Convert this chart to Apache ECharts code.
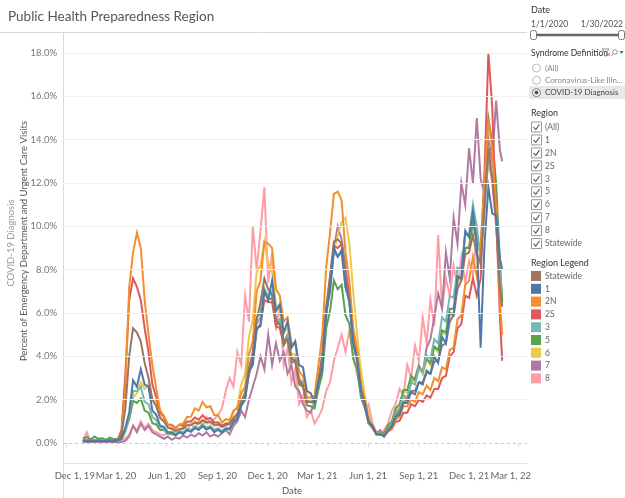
<!DOCTYPE html>
<html><head><meta charset="utf-8">
<script src="https://cdn.jsdelivr.net/npm/echarts@6/dist/echarts.min.js"></script>
<style>html,body{margin:0;padding:0;background:#fff}#c{width:625px;height:498px}</style>
</head><body><div id="c"></div>
<script>
// ---- categories: weekly dates from 1/1/2020, last point 1/30/2022 ----
const startYear = 2020, startMonth = 0, startDay = 1, stepDays = 7, weeklyPoints = 109;
const lastDate = [2022, 0, 30];
const dates = [];
for (let k = 0; k < weeklyPoints; k++) dates.push(new Date(startYear, startMonth, startDay + stepDays * k).getTime());
dates.push(new Date(lastDate[0], lastDate[1], lastDate[2]).getTime());

// ---- series values (% of ED & UC visits) ----
const statewide = [0.12,0.1,0.14,0.1,0.13,0.1,0.12,0.11,0.12,0.15,0.35,1.6,4.0,5.3,5.1,4.7,3.7,3.0,2.0,1.7,1.15,1.0,0.72,0.66,0.55,0.65,0.68,0.82,0.83,0.94,0.9,1.04,0.96,0.99,0.86,0.85,0.75,0.82,0.88,1.14,1.36,1.86,2.35,3.3,4.2,5.7,6.5,7.6,7.1,6.8,5.7,5.5,4.7,4.8,3.9,3.8,2.9,2.6,1.9,1.9,1.95,2.9,4.1,6.3,7.7,9.3,9.4,9.2,7.6,6.5,4.7,3.8,2.4,1.7,0.95,0.7,0.43,0.4,0.38,0.6,0.8,1.26,1.44,1.88,2.02,2.4,2.42,2.82,2.8,3.25,3.2,3.75,3.8,4.5,4.6,5.6,5.9,7.1,7.5,8.7,8.8,9.6,8.7,8.3,11.0,13.6,12.2,10.2,7.1,6.3];
const r1 = [0.1,0.12,0.08,0.1,0.11,0.08,0.1,0.12,0.1,0.12,0.2,0.7,1.4,2.9,2.6,3.4,2.7,2.6,1.5,1.3,0.8,0.75,0.5,0.5,0.35,0.5,0.42,0.6,0.52,0.7,0.6,0.8,0.62,0.72,0.5,0.62,0.48,0.66,0.62,0.98,1.1,1.75,2.0,3.3,3.6,5.3,5.4,7.0,6.6,7.5,6.1,6.4,5.1,5.6,4.4,4.7,3.6,3.5,2.4,2.3,1.85,2.8,3.5,6.0,7.0,9.0,8.6,8.9,7.2,6.6,4.6,3.9,2.4,1.85,0.95,0.8,0.4,0.4,0.3,0.55,0.75,1.2,1.3,1.85,1.85,2.35,2.25,2.8,2.7,3.35,3.2,4.0,3.7,4.9,4.6,6.0,5.9,7.7,7.6,9.8,9.5,10.7,9.2,4.4,9.2,11.8,10.6,10.5,8.5,8.0];
const r2N = [0.1,0.12,0.1,0.13,0.1,0.12,0.1,0.12,0.1,0.15,0.4,2.5,7.2,8.8,9.7,9.0,6.6,5.0,3.6,2.5,1.5,1.25,0.85,0.8,0.65,0.85,0.9,1.2,1.22,1.6,1.5,1.9,1.65,1.7,1.3,1.3,0.95,1.1,1.05,1.5,1.6,2.3,2.6,4.1,4.7,7.0,7.5,9.3,9.2,9.0,7.1,6.8,5.6,5.8,4.6,4.6,3.3,3.1,2.1,2.1,2.2,3.6,5.0,8.1,9.7,11.5,11.6,11.2,8.8,7.5,5.3,4.3,2.7,2.0,1.1,0.85,0.45,0.42,0.38,0.52,0.66,1.06,1.22,1.7,1.7,2.0,1.9,2.35,2.25,2.65,2.45,3.0,2.85,3.5,3.4,4.3,4.4,5.7,5.9,7.3,7.5,8.6,7.7,9.0,12.2,15.0,13.5,10.8,6.5,5.0];
const r2S = [0.1,0.12,0.1,0.12,0.1,0.12,0.1,0.12,0.1,0.15,0.6,3.2,6.6,7.6,7.2,6.6,5.3,4.2,2.7,2.1,1.4,1.2,0.85,0.85,0.7,0.85,0.8,1.0,1.0,1.18,1.08,1.28,1.1,1.16,0.95,0.96,0.8,0.9,0.9,1.16,1.32,1.9,2.2,3.2,3.8,5.2,5.5,6.6,6.5,6.5,5.4,5.3,4.6,4.8,3.9,3.8,2.8,2.7,1.9,1.9,1.9,2.9,3.8,6.1,7.3,9.1,9.0,9.2,7.7,6.9,5.0,4.2,2.6,1.9,1.0,0.75,0.42,0.4,0.38,0.55,0.65,0.98,1.02,1.4,1.4,1.8,1.7,2.0,1.9,2.2,2.1,2.5,2.5,3.0,3.1,4.0,4.2,5.3,5.5,6.8,6.7,7.6,6.8,7.6,12.5,18.0,15.5,10.5,5.8,3.8];
const r3 = [0.1,0.08,0.12,0.1,0.09,0.12,0.1,0.08,0.11,0.1,0.15,0.55,1.2,2.4,2.4,2.6,1.9,1.8,1.2,1.05,0.75,0.65,0.46,0.5,0.4,0.55,0.5,0.66,0.6,0.76,0.7,0.86,0.72,0.78,0.62,0.68,0.56,0.68,0.68,0.96,1.1,1.7,2.0,3.2,3.8,5.5,5.8,7.1,6.8,7.0,5.7,5.7,4.7,5.0,3.9,4.0,2.9,2.8,1.95,1.9,1.8,2.8,3.7,6.0,7.1,8.8,8.6,8.8,7.2,6.5,4.6,3.8,2.3,1.75,0.9,0.72,0.42,0.42,0.4,0.66,0.88,1.42,1.58,2.15,2.15,2.8,2.7,3.45,3.3,4.05,3.9,4.8,4.6,5.8,5.6,6.8,6.7,8.1,8.0,9.6,9.6,11.0,10.0,8.5,10.7,13.2,12.3,11.0,7.8,7.0];
const r5 = [0.2,0.28,0.15,0.3,0.2,0.22,0.15,0.25,0.18,0.2,0.25,0.65,1.1,1.95,1.85,2.05,1.5,1.4,0.92,0.86,0.6,0.6,0.42,0.44,0.36,0.5,0.46,0.6,0.56,0.7,0.64,0.78,0.65,0.73,0.57,0.63,0.53,0.68,0.7,1.0,1.2,1.95,2.2,3.5,4.1,5.8,6.0,7.1,6.6,6.7,5.5,5.5,4.5,4.8,3.7,3.8,2.7,2.6,1.75,1.7,1.6,2.5,3.2,5.3,6.1,7.5,7.1,7.3,5.9,5.5,3.9,3.4,2.1,1.65,0.9,0.72,0.4,0.45,0.46,0.82,1.0,1.62,1.78,2.45,2.45,3.1,2.9,3.5,3.3,3.9,3.7,4.45,4.3,5.2,5.1,6.2,6.2,7.6,7.6,9.0,9.0,10.2,9.3,9.0,12.2,15.0,13.9,12.0,8.3,6.5];
const r6 = [0.1,0.12,0.1,0.08,0.12,0.1,0.1,0.12,0.09,0.1,0.15,0.5,1.1,2.1,2.3,2.8,2.5,2.7,2.0,1.9,1.2,1.05,0.7,0.65,0.5,0.65,0.64,0.86,0.84,1.02,0.92,1.08,0.9,0.96,0.78,0.86,0.74,0.9,0.95,1.4,1.7,2.7,3.2,4.9,5.7,7.9,8.2,9.3,8.3,7.9,6.4,6.2,5.1,5.3,4.1,4.1,3.0,2.8,1.95,2.0,2.0,2.8,4.1,5.8,7.6,8.8,9.6,10.2,10.4,9.2,7.0,5.0,3.4,2.2,1.3,0.85,0.46,0.44,0.42,0.7,0.92,1.5,1.7,2.35,2.35,3.0,2.85,3.4,3.2,3.85,3.6,4.4,4.2,5.1,5.0,6.0,6.0,7.4,7.5,9.0,9.1,10.3,9.3,8.8,11.2,13.4,12.3,10.9,7.6,6.6];
const r7 = [0.05,0.05,0.05,0.05,0.05,0.05,0.05,0.05,0.05,0.05,0.05,0.1,0.3,0.8,0.5,0.9,0.6,0.8,0.5,0.4,0.3,0.2,0.3,0.15,0.25,0.2,0.35,0.25,0.4,0.3,0.45,0.35,0.5,0.3,0.4,0.3,0.45,0.6,0.4,0.8,1.0,1.5,1.2,2.0,2.6,3.2,4.0,3.4,5.0,3.6,4.6,3.8,4.2,3.2,3.6,2.6,2.4,1.8,1.5,1.4,1.9,2.5,3.8,5.8,7.6,9.0,10.0,9.4,8.2,6.8,5.2,3.9,2.8,1.8,1.1,0.7,0.45,0.6,0.3,0.6,0.8,1.3,1.6,2.2,2.0,2.8,3.0,3.6,3.2,4.4,4.8,5.8,6.9,6.2,8.8,7.6,10.4,9.2,12.0,11.0,13.6,12.0,15.0,12.2,11.5,14.0,13.0,15.8,13.5,13.0];
const r8 = [0.1,0.5,0.1,0.15,0.1,0.2,0.1,0.15,0.1,0.1,0.1,0.2,0.4,0.8,0.6,1.0,0.7,0.9,0.6,0.5,0.4,0.35,0.5,0.4,0.6,0.5,0.8,0.6,0.9,0.7,1.0,0.8,1.2,0.9,1.1,1.3,1.6,2.4,3.0,2.6,4.2,3.6,6.8,5.6,10.0,8.0,9.8,11.8,7.4,8.8,5.2,6.4,3.6,4.4,2.8,3.4,1.8,2.2,1.2,1.5,0.9,1.2,1.6,2.4,2.8,3.8,4.4,5.0,4.2,5.2,4.0,3.2,2.4,1.6,1.8,0.9,0.5,0.4,0.6,0.9,1.5,1.8,2.5,2.2,3.6,3.0,4.5,3.8,5.8,4.6,6.6,5.4,9.6,6.2,7.6,6.8,8.2,7.2,8.6,7.4,8.4,7.8,9.6,8.6,11.2,13.0,12.0,10.0,7.5,6.5];

// ---- legend / filter labels ----
const regionNames = ['Statewide','1','2N','2S','3','5','6','7','8'];
const regionColors = ['#9c755f','#4e79a7','#f28e2b','#e15759','#76b7b2','#59a14f','#edc948','#b07aa1','#ff9da7'];
const regionValues = [statewide, r1, r2N, r2S, r3, r5, r6, r7, r8];
const filterRegions = ['(All)','1','2N','2S','3','5','6','7','8','Statewide'];
const syndromeOptions = ['(All)','Coronavirus-Like Illn...','COVID-19 Diagnosis'];
const drawOrder = ['8','7','6','5','3','2S','2N','Statewide','1'];

// ---- axis ticks ----
const yTicks = [0,2,4,6,8,10,12,14,16,18];
const xTickDates = [[2019,11,1],[2020,2,1],[2020,5,1],[2020,8,1],[2020,11,1],[2021,2,1],[2021,5,1],[2021,8,1],[2021,11,1],[2022,2,1]];
const xTickLabels = ['Dec 1, 19','Mar 1, 20','Jun 1, 20','Sep 1, 20','Dec 1, 20','Mar 1, 21','Jun 1, 21','Sep 1, 21','Dec 1, 21','Mar 1, 22'];
const xTickValues = xTickDates.map(d => new Date(d[0], d[1], d[2]).getTime());

const FONT = 'Lato, "Open Sans", sans-serif';
const chart = echarts.init(document.getElementById('c'), null, {renderer: 'canvas'});

const series = [];
series.push({
  type: 'line', data: [], z: 1, silent: true,
  markLine: {
    silent: true, symbol: 'none', label: {show: false}, animation: false,
    data: yTicks.map(v => ({yAxis: v, lineStyle: v === 0 ? {color: '#c8c8c8', type: [3, 3], width: 1} : {color: '#efefef', type: 'solid', width: 1}}))
  }
});
drawOrder.forEach(name => {
  const i = regionNames.indexOf(name);
  series.push({
    name: name, type: 'line', showSymbol: false, symbol: 'none', z: 2,
    lineStyle: {width: 2, color: regionColors[i], join: 'miter'}, itemStyle: {color: regionColors[i]},
    emphasis: {disabled: true}, silent: true,
    data: dates.map((d, k) => [d, regionValues[i][k]])
  });
});

const g = [];
const txt = (x, y, text, size, fill, extra) => g.push(Object.assign({type: 'text', x: x, y: y, silent: true,
  style: Object.assign({text: text, font: size + 'px ' + FONT, fill: fill, align: 'left', verticalAlign: 'middle'}, extra && extra.style || {})},
  extra && extra.el || {}));
g.push({type: 'line', silent: true, shape: {x1: 0, y1: 32.5, x2: 527, y2: 32.5}, style: {stroke: '#d9d9d9', lineWidth: 1}});
g.push({type: 'line', silent: true, shape: {x1: 63.5, y1: 32, x2: 63.5, y2: 498}, style: {stroke: '#d9d9d9', lineWidth: 1}});
g.push({type: 'line', silent: true, shape: {x1: 63, y1: 463.5, x2: 527, y2: 463.5}, style: {stroke: '#e3e3e3', lineWidth: 1}});
txt(8, 17, 'Public Health Preparedness Region', 13.5, '#555');
txt(24, 241, 'Percent of Emergency Department and Urgent Care Visits', 9.5, '#555', {style: {align: 'center'}, el: {rotation: Math.PI / 2}});
txt(11, 243, 'COVID-19 Diagnosis', 9.5, '#999', {style: {align: 'center'}, el: {rotation: Math.PI / 2}});
txt(292, 491, 'Date', 9.5, '#555', {style: {align: 'center'}});
txt(531, 10, 'Date', 9, '#333');
txt(531, 24, '1/1/2020', 8.5, '#555');
txt(623, 24, '1/30/2022', 8.5, '#555', {style: {align: 'right'}});
g.push({type: 'line', silent: true, shape: {x1: 535, y1: 35, x2: 620, y2: 35}, style: {stroke: '#666', lineWidth: 2.5}});
g.push({type: 'rect', silent: true, shape: {x: 530.5, y: 30.5, width: 6, height: 9, r: 2}, style: {fill: '#fff', stroke: '#777', lineWidth: 1}});
g.push({type: 'rect', silent: true, shape: {x: 618.5, y: 30.5, width: 6, height: 9, r: 2}, style: {fill: '#fff', stroke: '#777', lineWidth: 1}});
txt(531, 53, 'Syndrome Definition', 8.5, '#333');
g.push({type: 'polygon', silent: true, shape: {points: [[602, 49], [609, 49], [606.5, 52.5], [606.5, 56], [604.5, 56], [604.5, 52.5]]}, style: {fill: 'none', stroke: '#888', lineWidth: 0.9}});
g.push({type: 'text', silent: true, x: 608.5, y: 55, style: {text: '×', font: 'bold 7px ' + FONT, fill: '#e15759', align: 'center', verticalAlign: 'middle'}});
g.push({type: 'circle', silent: true, shape: {cx: 615, cy: 52, r: 2.3}, style: {fill: 'none', stroke: '#888', lineWidth: 0.9}});
g.push({type: 'line', silent: true, shape: {x1: 613.3, y1: 53.8, x2: 611.5, y2: 55.8}, style: {stroke: '#888', lineWidth: 1}});
g.push({type: 'polygon', silent: true, shape: {points: [[619.5, 51], [623.5, 51], [621.5, 54]]}, style: {fill: '#666'}});
g.push({type: 'rect', silent: true, shape: {x: 529, y: 86, width: 96, height: 13}, style: {fill: '#e8e8e8'}});
syndromeOptions.forEach((s, i) => {
  const y = 68 + i * 12.3;
  g.push({type: 'circle', silent: true, shape: {cx: 536.5, cy: y, r: 4}, style: {fill: '#fff', stroke: i === 2 ? '#777' : '#bbb', lineWidth: 1}});
  if (i === 2) g.push({type: 'circle', silent: true, shape: {cx: 536.5, cy: y, r: 2}, style: {fill: '#555'}});
  txt(545, y, s, 8, i === 2 ? '#444' : '#888');
});
txt(531, 113, 'Region', 9, '#333');
filterRegions.forEach((s, i) => {
  const y = 127 + i * 12.95;
  g.push({type: 'rect', silent: true, shape: {x: 531.5, y: y - 5, width: 10, height: 10}, style: {fill: '#fff', stroke: '#999', lineWidth: 1}});
  g.push({type: 'polyline', silent: true, shape: {points: [[533.5, y], [535.8, y + 2.5], [539.5, y - 2.8]]}, style: {stroke: '#555', lineWidth: 1.1, fill: null}});
  txt(545, y, s, 8.5, '#666');
});
txt(531, 263, 'Region Legend', 9, '#333');
regionNames.forEach((s, i) => {
  const y = 276 + i * 12.8;
  g.push({type: 'rect', silent: true, shape: {x: 531, y: y - 5, width: 10, height: 10}, style: {fill: regionColors[i]}});
  txt(545, y, s, 8.5, '#666');
});

chart.setOption({
  animation: false,
  backgroundColor: '#fff',
  grid: {left: 63, right: 98, top: 32, bottom: 35, containLabel: false},
  xAxis: {
    type: 'value',
    min: new Date(2019, 10, 26).getTime(),
    max: new Date(2022, 2, 16).getTime(),
    axisLine: {show: false},
    axisTick: {show: true, length: 4, lineStyle: {color: '#e0e0e0'}, customValues: xTickValues},
    splitLine: {show: false},
    axisLabel: {
      customValues: xTickValues, color: '#666', fontSize: 9.5, fontFamily: FONT, margin: 8,
      formatter: v => {
        const i = xTickValues.indexOf(v);
        if (i < 0) return '';
        if (i === 0) return '{first|' + xTickLabels[i] + '}';
        if (i === xTickLabels.length - 1) return '{last|' + xTickLabels[i] + '}';
        return xTickLabels[i];
      },
      rich: {
        first: {padding: [0, 0, 0, 18], color: '#666', fontSize: 9.5, fontFamily: FONT},
        last: {padding: [0, 16, 0, 0], color: '#666', fontSize: 9.5, fontFamily: FONT}
      }
    }
  },
  yAxis: {
    type: 'value', min: -0.92, max: 18.97,
    axisLine: {show: false}, axisTick: {show: false}, splitLine: {show: false},
    axisLabel: {customValues: yTicks, color: '#777', fontSize: 9.5, fontFamily: FONT, margin: 6,
      formatter: v => v.toFixed(1) + '%'}
  },
  series: series,
  graphic: g
});
</script></body></html>
